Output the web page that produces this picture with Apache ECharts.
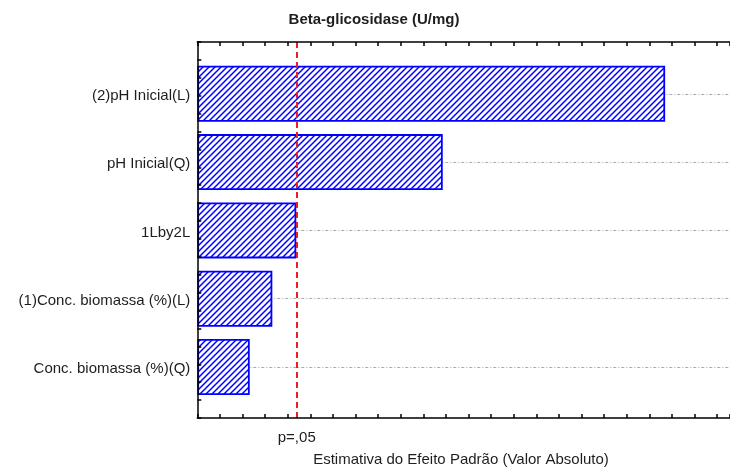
<!DOCTYPE html>
<html>
<head>
<meta charset="utf-8">
<script src="https://cdn.jsdelivr.net/npm/echarts@6/dist/echarts.min.js"></script>
<style>
  html, body { margin: 0; padding: 0; background: #fff; }
  #chart { width: 730px; height: 471px; }
</style>
</head>
<body>
<div id="chart"></div>
<script>
// Pareto chart of standardized effects
const categories = [
  '(2)pH Inicial(L)',
  'pH Inicial(Q)',
  '1Lby2L',
  '(1)Conc. biomassa (%)(L)',
  'Conc. biomassa (%)(Q)'
];
const effects = [10.35, 5.43, 2.19, 1.66, 1.16];
const pCritical = 2.201;
const pLabel = 'p=,05';
const chartTitle = 'Beta-glicosidase (U/mg)';
const xTitle = 'Estimativa do Efeito Padrão (Valor Absoluto)';

const FONT = '"Liberation Sans", Arial, sans-serif';
const TEXT = '#1e1e1e';
const BLUE = '#0000ff';

// diagonal "/" hatching tile for the bars
function hatchTile() {
  const s = 6;
  const c = document.createElement('canvas');
  c.width = s; c.height = s;
  const ctx = c.getContext('2d');
  ctx.fillStyle = '#ffffff';
  ctx.fillRect(0, 0, s, s);
  ctx.strokeStyle = BLUE;
  ctx.lineWidth = 1.5;
  ctx.beginPath();
  ctx.moveTo(-1, s + 1); ctx.lineTo(s + 1, -1);
  ctx.moveTo(-1, 1); ctx.lineTo(1, -1);
  ctx.moveTo(s - 1, s + 1); ctx.lineTo(s + 1, s - 1);
  ctx.stroke();
  return c;
}

const chart = echarts.init(document.getElementById('chart'), null, { renderer: 'canvas' });

// plot frame runs off the right edge of the canvas
const L = 197.3, W = 730 - 197.3, T = 42, H = 376;
const XMAX = 11.785;
const bandTop = 59.6, bandH = 341.6;

const frameAxisX = {
  type: 'value', min: 0, max: XMAX, interval: 0.5, z: 10,
  axisLine: { show: true, onZero: false, lineStyle: { color: '#000', width: 1.5 } },
  axisTick: { show: true, inside: true, length: 4, lineStyle: { color: '#000', width: 1.5 } },
  axisLabel: { show: false },
  splitLine: { show: false }
};

chart.setOption({
  animation: false,
  grid: [
    { left: L, top: T, width: W, height: H },
    { left: L, top: bandTop, width: W, height: bandH }
  ],
  xAxis: [
    Object.assign({ gridIndex: 0, position: 'bottom' }, frameAxisX),
    Object.assign({ gridIndex: 0, position: 'top' }, frameAxisX),
    { gridIndex: 1, type: 'value', min: 0, max: XMAX, show: false, splitLine: { show: false } }
  ],
  yAxis: [
    {
      gridIndex: 0, type: 'value', min: 0, max: 21, interval: 1, z: 10,
      axisLine: { show: true, lineStyle: { color: '#000', width: 1.5 } },
      axisTick: { show: true, inside: true, length: 4, lineStyle: { color: '#000', width: 1.5 } },
      axisLabel: { show: false },
      splitLine: { show: false }
    },
    {
      gridIndex: 1, type: 'category', data: categories, inverse: true,
      axisLine: { show: false }, axisTick: { show: false },
      splitLine: { show: false },
      axisLabel: {
        margin: 7, color: TEXT, fontFamily: FONT, fontSize: 15,
        formatter: v => '{t|' + v + '}',
        rich: { t: { fontFamily: FONT, fontSize: 15, color: TEXT, padding: [4, 0, 0, 0] } }
      }
    }
  ],
  graphic: [
    {
      type: 'text', x: 374, y: 20,
      style: { text: chartTitle, textAlign: 'center', textVerticalAlign: 'middle',
               font: 'bold 15px ' + FONT, fill: TEXT }
    },
    {
      type: 'text', x: 461, y: 460,
      style: { text: xTitle, textAlign: 'center', textVerticalAlign: 'middle',
               font: '15px ' + FONT, fill: TEXT }
    }
  ],
  series: [
    {
      // dash-dot reference lines through each effect row, kept under the bars
      type: 'scatter', xAxisIndex: 2, yAxisIndex: 1, data: [], z: 1, silent: true,
      markLine: {
        z: 1, silent: true, symbol: 'none', animation: false,
        label: { show: false },
        lineStyle: { color: '#a8a8a8', width: 1, type: [3, 2, 1, 2] },
        data: categories.map(c => ({ yAxis: c }))
      }
    },
    {
      type: 'bar', xAxisIndex: 2, yAxisIndex: 1, z: 3,
      data: effects,
      barWidth: 56,
      itemStyle: {
        color: { image: hatchTile(), repeat: 'repeat' },
        borderColor: BLUE, borderWidth: 1.8
      }
    },
    {
      // significance threshold
      type: 'scatter', xAxisIndex: 0, yAxisIndex: 0, data: [], z: 4,
      markLine: {
        z: 6, silent: true, symbol: 'none', animation: false,
        lineStyle: { color: '#ee1c24', width: 2, type: [6, 4] },
        label: { show: true, position: 'start', formatter: pLabel, distance: 12,
                 color: TEXT, fontFamily: FONT, fontSize: 15 },
        data: [{ xAxis: pCritical }]
      }
    }
  ]
});
</script>
</body>
</html>
